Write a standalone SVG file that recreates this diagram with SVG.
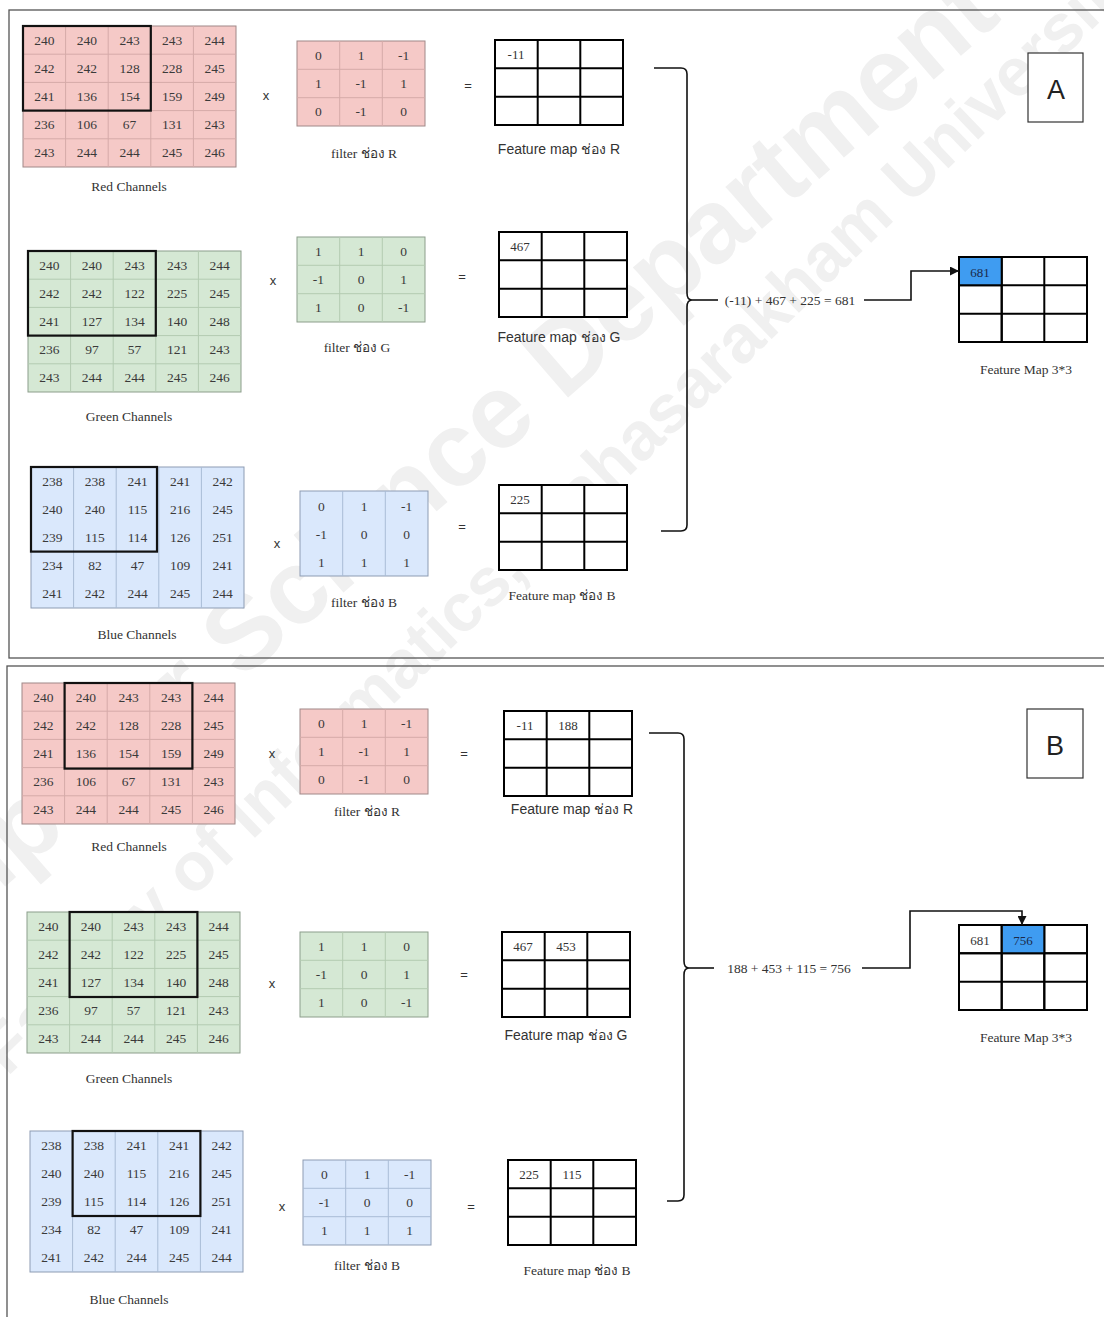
<svg xmlns="http://www.w3.org/2000/svg" xmlns:xlink="http://www.w3.org/1999/xlink" width="1104" height="1317" viewBox="0 0 1104 1317">
<style>
.n{font-family:"Liberation Serif",serif;font-size:13.5px;fill:#3a3a3a;text-anchor:middle;dominant-baseline:central}
.fn{font-family:"Liberation Serif",serif;font-size:13px;fill:#333;text-anchor:middle;dominant-baseline:central}
.lbl{font-family:"Liberation Serif",serif;font-size:13.5px;fill:#333;text-anchor:middle}
.slbl{font-family:"Liberation Sans",sans-serif;font-size:14px;fill:#333;text-anchor:middle}
.op{font-family:"Liberation Sans",sans-serif;font-size:13px;fill:#333;text-anchor:middle}
.hl{fill:none;stroke:#111;stroke-width:2.2}
.fm{fill:#fff;stroke:#000;stroke-width:2}
.fml{fill:none;stroke:#000;stroke-width:2}
.frame{fill:none;stroke:#555;stroke-width:1.3}
.tag{font-family:"Liberation Sans",sans-serif;font-size:27px;fill:#222;text-anchor:middle}
</style>
<defs>
<rect id="b5" width="213" height="141"/>
<path id="l5" fill="none" d="M42.6,0V141M85.2,0V141M127.8,0V141M170.4,0V141M0,28.2H213M0,56.4H213M0,84.6H213M0,112.8H213"/>
<path id="v5" fill="none" d="M42.6,0V141M85.2,0V141M127.8,0V141M170.4,0V141"/>
<rect id="b3" width="128" height="85"/>
<path id="l3" fill="none" d="M42.7,0V85M85.3,0V85M0,28.3H128M0,56.7H128"/>
<path id="v3" fill="none" d="M42.7,0V85M85.3,0V85"/>
<g id="fmg"><rect class="fm" width="128" height="85"/><path class="fml" d="M42.7,0V85M85.3,0V85M0,28.3H128M0,56.7H128"/></g>
<marker id="arr" viewBox="0 0 10 10" refX="10" refY="5" markerWidth="9" markerHeight="9" markerUnits="userSpaceOnUse" orient="auto"><path d="M0,0 L10,5 L0,10 z" fill="#111"/></marker>
</defs>
<rect width="1104" height="1317" fill="#fff"/>
<g id="watermark" font-family="Liberation Sans, sans-serif" font-weight="bold" fill="#f0f0f0" text-anchor="middle" dominant-baseline="central">
<text transform="translate(400,495) rotate(-41)" font-size="105">Computer Science Department</text>
<text transform="translate(560,510) rotate(-44)" font-size="68">Faculty of Informatics, Mahasarakham University</text>
</g>
<g id="panel-A">
<rect class="frame" x="9" y="10" width="1120" height="648"/>
<g id="a-red-channel">
<g transform="translate(23,26)">
<use href="#b5" fill="#f5c9c7" stroke="#a08888"/>
<use href="#l5" stroke="#d5aaa8"/>
<rect class="hl" width="127.8" height="84.6"/>
<g class="n">
<text x="21.3" y="14.1">240</text><text x="63.9" y="14.1">240</text><text x="106.5" y="14.1">243</text><text x="149.1" y="14.1">243</text><text x="191.7" y="14.1">244</text>
<text x="21.3" y="42.3">242</text><text x="63.9" y="42.3">242</text><text x="106.5" y="42.3">128</text><text x="149.1" y="42.3">228</text><text x="191.7" y="42.3">245</text>
<text x="21.3" y="70.5">241</text><text x="63.9" y="70.5">136</text><text x="106.5" y="70.5">154</text><text x="149.1" y="70.5">159</text><text x="191.7" y="70.5">249</text>
<text x="21.3" y="98.7">236</text><text x="63.9" y="98.7">106</text><text x="106.5" y="98.7">67</text><text x="149.1" y="98.7">131</text><text x="191.7" y="98.7">243</text>
<text x="21.3" y="126.9">243</text><text x="63.9" y="126.9">244</text><text x="106.5" y="126.9">244</text><text x="149.1" y="126.9">245</text><text x="191.7" y="126.9">246</text>
</g>
</g>
<text class="lbl" x="129" y="191">Red Channels</text>
</g>
<text class="op" x="266" y="100">x</text>
<g id="a-filter-r">
<g transform="translate(297,41)">
<use href="#b3" fill="#f5c9c7" stroke="#a08888"/>
<use href="#l3" stroke="#d5aaa8"/>
<g class="n">
<text x="21.3" y="14.2">0</text><text x="64" y="14.2">1</text><text x="106.7" y="14.2">-1</text>
<text x="21.3" y="42.5">1</text><text x="64" y="42.5">-1</text><text x="106.7" y="42.5">1</text>
<text x="21.3" y="70.8">0</text><text x="64" y="70.8">-1</text><text x="106.7" y="70.8">0</text>
</g>
</g>
<text class="lbl" x="364" y="158">filter ช่อง R</text>
</g>
<text class="op" x="468" y="90">=</text>
<g id="a-fm-r">
<use href="#fmg" x="495" y="40"/>
<text class="fn" x="516" y="54">-11</text>
<text class="slbl" x="559" y="154">Feature map ช่อง R</text>
</g>
<g id="a-green-channel">
<g transform="translate(28,251)">
<use href="#b5" fill="#d5e8d4" stroke="#8c9e8b"/>
<use href="#l5" stroke="#b3cbb1"/>
<rect class="hl" width="127.8" height="84.6"/>
<g class="n">
<text x="21.3" y="14.1">240</text><text x="63.9" y="14.1">240</text><text x="106.5" y="14.1">243</text><text x="149.1" y="14.1">243</text><text x="191.7" y="14.1">244</text>
<text x="21.3" y="42.3">242</text><text x="63.9" y="42.3">242</text><text x="106.5" y="42.3">122</text><text x="149.1" y="42.3">225</text><text x="191.7" y="42.3">245</text>
<text x="21.3" y="70.5">241</text><text x="63.9" y="70.5">127</text><text x="106.5" y="70.5">134</text><text x="149.1" y="70.5">140</text><text x="191.7" y="70.5">248</text>
<text x="21.3" y="98.7">236</text><text x="63.9" y="98.7">97</text><text x="106.5" y="98.7">57</text><text x="149.1" y="98.7">121</text><text x="191.7" y="98.7">243</text>
<text x="21.3" y="126.9">243</text><text x="63.9" y="126.9">244</text><text x="106.5" y="126.9">244</text><text x="149.1" y="126.9">245</text><text x="191.7" y="126.9">246</text>
</g>
</g>
<text class="lbl" x="129" y="421">Green Channels</text>
</g>
<text class="op" x="273" y="285">x</text>
<g id="a-filter-g">
<g transform="translate(297,237)">
<use href="#b3" fill="#d5e8d4" stroke="#8c9e8b"/>
<use href="#l3" stroke="#b3cbb1"/>
<g class="n">
<text x="21.3" y="14.2">1</text><text x="64" y="14.2">1</text><text x="106.7" y="14.2">0</text>
<text x="21.3" y="42.5">-1</text><text x="64" y="42.5">0</text><text x="106.7" y="42.5">1</text>
<text x="21.3" y="70.8">1</text><text x="64" y="70.8">0</text><text x="106.7" y="70.8">-1</text>
</g>
</g>
<text class="lbl" x="357" y="352">filter ช่อง G</text>
</g>
<text class="op" x="462" y="281">=</text>
<g id="a-fm-g">
<use href="#fmg" x="499" y="232"/>
<text class="fn" x="520" y="246">467</text>
<text class="slbl" x="559" y="342">Feature map ช่อง G</text>
</g>
<g id="a-blue-channel">
<g transform="translate(31,467)">
<use href="#b5" fill="#dae8fc" stroke="#8d9cb3"/>
<use href="#v5" stroke="#a9bcd6"/>
<rect class="hl" width="126" height="84.6"/>
<g class="n">
<text x="21.3" y="14.1">238</text><text x="63.9" y="14.1">238</text><text x="106.5" y="14.1">241</text><text x="149.1" y="14.1">241</text><text x="191.7" y="14.1">242</text>
<text x="21.3" y="42.3">240</text><text x="63.9" y="42.3">240</text><text x="106.5" y="42.3">115</text><text x="149.1" y="42.3">216</text><text x="191.7" y="42.3">245</text>
<text x="21.3" y="70.5">239</text><text x="63.9" y="70.5">115</text><text x="106.5" y="70.5">114</text><text x="149.1" y="70.5">126</text><text x="191.7" y="70.5">251</text>
<text x="21.3" y="98.7">234</text><text x="63.9" y="98.7">82</text><text x="106.5" y="98.7">47</text><text x="149.1" y="98.7">109</text><text x="191.7" y="98.7">241</text>
<text x="21.3" y="126.9">241</text><text x="63.9" y="126.9">242</text><text x="106.5" y="126.9">244</text><text x="149.1" y="126.9">245</text><text x="191.7" y="126.9">244</text>
</g>
</g>
<text class="lbl" x="137" y="639">Blue Channels</text>
</g>
<text class="op" x="277" y="548">x</text>
<g id="a-filter-b">
<g transform="translate(300,491)">
<use href="#b3" fill="#dae8fc" stroke="#8d9cb3"/>
<use href="#v3" stroke="#a9bcd6"/>
<g class="n">
<text x="21.3" y="15">0</text><text x="64" y="15">1</text><text x="106.7" y="15">-1</text>
<text x="21.3" y="43">-1</text><text x="64" y="43">0</text><text x="106.7" y="43">0</text>
<text x="21.3" y="71">1</text><text x="64" y="71">1</text><text x="106.7" y="71">1</text>
</g>
</g>
<text class="lbl" x="364" y="607">filter ช่อง B</text>
</g>
<text class="op" x="462" y="531">=</text>
<g id="a-fm-b">
<use href="#fmg" x="499" y="485"/>
<text class="fn" x="520" y="499">225</text>
<text class="lbl" x="562" y="600">Feature map ช่อง B</text>
</g>
<g id="a-result">
<use href="#fmg" x="959" y="257"/>
<rect x="960" y="258" width="41.7" height="27.3" fill="#3f9cf1"/>
<path class="fml" d="M959,257H1087M1001.7,257V342M959,257V342M959,285.3H1001.7"/>
<text class="fn" x="980" y="272" style="fill:#1b2a4a">681</text>
<text class="lbl" x="1026" y="374">Feature Map 3*3</text>
</g>
<g id="a-tag">
<rect x="1028" y="53" width="55" height="69" fill="#fff" stroke="#333" stroke-width="1.2"/>
<text class="tag" x="1056" y="99">A</text>
</g>
<text class="lbl" x="790" y="305">(-11) + 467 + 225 = 681</text>
</g>
<g id="panel-B">
<rect class="frame" x="7" y="666" width="1120" height="700"/>
<g id="b-red-channel">
<g transform="translate(22,683)">
<use href="#b5" fill="#f5c9c7" stroke="#a08888"/>
<use href="#l5" stroke="#d5aaa8"/>
<rect class="hl" x="42.6" width="127.8" height="85.6"/>
<g class="n">
<text x="21.3" y="14.1">240</text><text x="63.9" y="14.1">240</text><text x="106.5" y="14.1">243</text><text x="149.1" y="14.1">243</text><text x="191.7" y="14.1">244</text>
<text x="21.3" y="42.3">242</text><text x="63.9" y="42.3">242</text><text x="106.5" y="42.3">128</text><text x="149.1" y="42.3">228</text><text x="191.7" y="42.3">245</text>
<text x="21.3" y="70.5">241</text><text x="63.9" y="70.5">136</text><text x="106.5" y="70.5">154</text><text x="149.1" y="70.5">159</text><text x="191.7" y="70.5">249</text>
<text x="21.3" y="98.7">236</text><text x="63.9" y="98.7">106</text><text x="106.5" y="98.7">67</text><text x="149.1" y="98.7">131</text><text x="191.7" y="98.7">243</text>
<text x="21.3" y="126.9">243</text><text x="63.9" y="126.9">244</text><text x="106.5" y="126.9">244</text><text x="149.1" y="126.9">245</text><text x="191.7" y="126.9">246</text>
</g>
</g>
<text class="lbl" x="129" y="851">Red Channels</text>
</g>
<text class="op" x="272" y="758">x</text>
<g id="b-filter-r">
<g transform="translate(300,709)">
<use href="#b3" fill="#f5c9c7" stroke="#a08888"/>
<use href="#l3" stroke="#d5aaa8"/>
<g class="n">
<text x="21.3" y="14.2">0</text><text x="64" y="14.2">1</text><text x="106.7" y="14.2">-1</text>
<text x="21.3" y="42.5">1</text><text x="64" y="42.5">-1</text><text x="106.7" y="42.5">1</text>
<text x="21.3" y="70.8">0</text><text x="64" y="70.8">-1</text><text x="106.7" y="70.8">0</text>
</g>
</g>
<text class="lbl" x="367" y="816">filter ช่อง R</text>
</g>
<text class="op" x="464" y="758">=</text>
<g id="b-fm-r">
<use href="#fmg" x="504" y="711"/>
<text class="fn" x="525" y="725">-11</text>
<text class="fn" x="568" y="725">188</text>
<text class="slbl" x="572" y="814">Feature map ช่อง R</text>
</g>
<g id="b-green-channel">
<g transform="translate(27,912)">
<use href="#b5" fill="#d5e8d4" stroke="#8c9e8b"/>
<use href="#l5" stroke="#b3cbb1"/>
<rect class="hl" x="42.6" width="127.8" height="85"/>
<g class="n">
<text x="21.3" y="14.1">240</text><text x="63.9" y="14.1">240</text><text x="106.5" y="14.1">243</text><text x="149.1" y="14.1">243</text><text x="191.7" y="14.1">244</text>
<text x="21.3" y="42.3">242</text><text x="63.9" y="42.3">242</text><text x="106.5" y="42.3">122</text><text x="149.1" y="42.3">225</text><text x="191.7" y="42.3">245</text>
<text x="21.3" y="70.5">241</text><text x="63.9" y="70.5">127</text><text x="106.5" y="70.5">134</text><text x="149.1" y="70.5">140</text><text x="191.7" y="70.5">248</text>
<text x="21.3" y="98.7">236</text><text x="63.9" y="98.7">97</text><text x="106.5" y="98.7">57</text><text x="149.1" y="98.7">121</text><text x="191.7" y="98.7">243</text>
<text x="21.3" y="126.9">243</text><text x="63.9" y="126.9">244</text><text x="106.5" y="126.9">244</text><text x="149.1" y="126.9">245</text><text x="191.7" y="126.9">246</text>
</g>
</g>
<text class="lbl" x="129" y="1083">Green Channels</text>
</g>
<text class="op" x="272" y="988">x</text>
<g id="b-filter-g">
<g transform="translate(300,932)">
<use href="#b3" fill="#d5e8d4" stroke="#8c9e8b"/>
<use href="#l3" stroke="#b3cbb1"/>
<g class="n">
<text x="21.3" y="14.2">1</text><text x="64" y="14.2">1</text><text x="106.7" y="14.2">0</text>
<text x="21.3" y="42.5">-1</text><text x="64" y="42.5">0</text><text x="106.7" y="42.5">1</text>
<text x="21.3" y="70.8">1</text><text x="64" y="70.8">0</text><text x="106.7" y="70.8">-1</text>
</g>
</g>
</g>
<text class="op" x="464" y="979">=</text>
<g id="b-fm-g">
<use href="#fmg" x="502" y="932"/>
<text class="fn" x="523" y="946">467</text>
<text class="fn" x="566" y="946">453</text>
<text class="slbl" x="566" y="1040">Feature map ช่อง G</text>
</g>
<g id="b-blue-channel">
<g transform="translate(30,1131)">
<use href="#b5" fill="#dae8fc" stroke="#8d9cb3"/>
<use href="#v5" stroke="#a9bcd6"/>
<rect class="hl" x="42.6" width="127.8" height="85"/>
<g class="n">
<text x="21.3" y="14.1">238</text><text x="63.9" y="14.1">238</text><text x="106.5" y="14.1">241</text><text x="149.1" y="14.1">241</text><text x="191.7" y="14.1">242</text>
<text x="21.3" y="42.3">240</text><text x="63.9" y="42.3">240</text><text x="106.5" y="42.3">115</text><text x="149.1" y="42.3">216</text><text x="191.7" y="42.3">245</text>
<text x="21.3" y="70.5">239</text><text x="63.9" y="70.5">115</text><text x="106.5" y="70.5">114</text><text x="149.1" y="70.5">126</text><text x="191.7" y="70.5">251</text>
<text x="21.3" y="98.7">234</text><text x="63.9" y="98.7">82</text><text x="106.5" y="98.7">47</text><text x="149.1" y="98.7">109</text><text x="191.7" y="98.7">241</text>
<text x="21.3" y="126.9">241</text><text x="63.9" y="126.9">242</text><text x="106.5" y="126.9">244</text><text x="149.1" y="126.9">245</text><text x="191.7" y="126.9">244</text>
</g>
</g>
<text class="lbl" x="129" y="1304">Blue Channels</text>
</g>
<text class="op" x="282" y="1211">x</text>
<g id="b-filter-b">
<g transform="translate(303,1160)">
<use href="#b3" fill="#dae8fc" stroke="#8d9cb3"/>
<use href="#l3" stroke="#a9bcd6"/>
<g class="n">
<text x="21.3" y="14.2">0</text><text x="64" y="14.2">1</text><text x="106.7" y="14.2">-1</text>
<text x="21.3" y="42.5">-1</text><text x="64" y="42.5">0</text><text x="106.7" y="42.5">0</text>
<text x="21.3" y="70.8">1</text><text x="64" y="70.8">1</text><text x="106.7" y="70.8">1</text>
</g>
</g>
<text class="lbl" x="367" y="1270">filter ช่อง B</text>
</g>
<text class="op" x="471" y="1211">=</text>
<g id="b-fm-b">
<use href="#fmg" x="508" y="1160"/>
<text class="fn" x="529" y="1174">225</text>
<text class="fn" x="572" y="1174">115</text>
<text class="lbl" x="577" y="1275">Feature map ช่อง B</text>
</g>
<g id="b-result">
<use href="#fmg" x="959" y="925"/>
<rect x="1002.7" y="926" width="41.6" height="27.3" fill="#3f9cf1"/>
<path class="fml" d="M959,925H1087M1001.7,925V1010M1044.3,925V1010M959,953.3H1087"/>
<text class="fn" x="980" y="940">681</text>
<text class="fn" x="1023" y="940" style="fill:#1b2a4a">756</text>
<text class="lbl" x="1026" y="1042">Feature Map 3*3</text>
</g>
<g id="b-tag">
<rect x="1027" y="709" width="56" height="69" fill="#fff" stroke="#333" stroke-width="1.2"/>
<text class="tag" x="1055" y="755">B</text>
</g>
<text class="lbl" x="789" y="973">188 + 453 + 115 = 756</text>
</g>
<g id="connectors" fill="none" stroke="#111" stroke-width="1.6">
<path d="M654,68H681Q687,68 687,74V293Q687,300 692,300Q687,300 687,307V525Q687,531 681,531H661"/>
<path d="M692,300H718"/>
<path d="M864,300H911V271H959" marker-end="url(#arr)"/>
<path d="M649,733H678Q684,733 684,739V961Q684,968 689,968Q684,968 684,975V1195Q684,1201 678,1201H667"/>
<path d="M689,968H714"/>
<path d="M862,968H910V911H1022V925" marker-end="url(#arr)"/>
</g>
</svg>
